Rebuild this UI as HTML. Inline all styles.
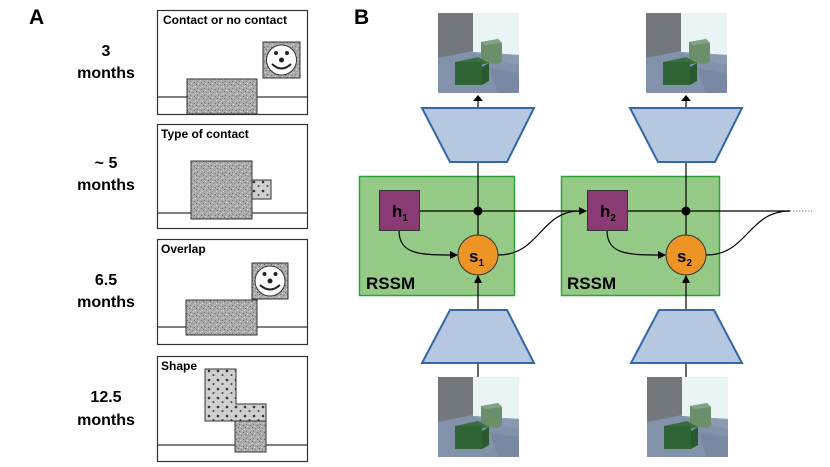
<!DOCTYPE html>
<html><head><meta charset="utf-8"><style>
html,body{margin:0;padding:0;background:#fff;}
svg{display:block;}
text{font-family:"Liberation Sans",Arial,sans-serif;font-weight:bold;}
</style></head><body>
<svg width="830" height="467" viewBox="0 0 830 467" xmlns="http://www.w3.org/2000/svg">
<defs>
<pattern id="noise" width="7" height="7" patternUnits="userSpaceOnUse">
<rect width="7" height="7" fill="#aaa"/>
<rect x="0" y="0" width="1" height="1" fill="#666"/><rect x="3" y="1" width="1" height="1" fill="#888"/>
<rect x="1" y="4" width="1" height="1" fill="#777"/><rect x="5" y="5" width="1" height="1" fill="#666"/>
<rect x="2" y="6" width="1" height="1" fill="#ddd"/><rect x="6" y="2" width="1" height="1" fill="#ddd"/>
<rect x="4" y="3" width="1" height="1" fill="#ccc"/>
</pattern>
<pattern id="dots" width="9" height="9" patternUnits="userSpaceOnUse">
<rect width="9" height="9" fill="#cfcfcf"/>
<circle cx="2" cy="2" r="1.3" fill="#333"/><circle cx="6.5" cy="6" r="1" fill="#444"/>
</pattern>
<g id="img">
<rect x="0" y="0" width="81" height="80" fill="#8292aa"/>
<polygon points="0,0 35,0 35,38 0,45" fill="#73787f"/>
<polygon points="35,0 81,0 81,42 35,39" fill="#e9f5f5"/>
<polygon points="35,39 81,42 81,52 55,46 35,40" fill="#8a9ab0"/>
<polygon points="43,29 60,26 64,30 64,48 60,51 43,49" fill="#6b8e6b"/>
<polygon points="43,29 60,26 64,30 47,32" fill="#82a482"/>
<polygon points="51,55 81,60 81,80 60,80" fill="#74849c" opacity="0.6"/>
<polygon points="17,49 40,44 51,50 28,55" fill="#3c6f40"/>
<rect x="17" y="49" width="27" height="23" fill="#2e6534"/>
<polygon points="44,54 51,50 51,68 44,72" fill="#285a2d"/>
</g>
<marker id="ah" markerWidth="8" markerHeight="8" refX="7" refY="4" orient="auto" markerUnits="userSpaceOnUse">
<path d="M0,0 L8,4 L0,8 z" fill="#000"/>
</marker>
</defs>

<text x="29" y="24" font-size="21">A</text>
<g font-size="16" text-anchor="middle">
<text x="106" y="56">3</text><text x="106" y="78">months</text>
<text x="106" y="168">~ 5</text><text x="106" y="190">months</text>
<text x="106" y="285">6.5</text><text x="106" y="307">months</text>
<text x="106" y="402">12.5</text><text x="106" y="425">months</text>
</g>

<g stroke="#333" stroke-width="1.2" fill="none">
<rect x="157.5" y="10.5" width="150" height="104"/>
<rect x="157.5" y="124.5" width="150" height="104"/>
<rect x="157.5" y="239.5" width="150" height="105"/>
<rect x="157.5" y="356.5" width="150" height="105"/>
<line x1="157" y1="97" x2="307" y2="97"/>
<line x1="157" y1="213" x2="307" y2="213"/>
<line x1="157" y1="327" x2="307" y2="327"/>
<line x1="157" y1="445" x2="307" y2="445"/>
</g>
<g font-size="12">
<text x="163" y="24">Contact or no contact</text>
<text x="161" y="138">Type of contact</text>
<text x="161" y="253">Overlap</text>
<text x="161" y="370">Shape</text>
</g>
<g stroke="#333" stroke-width="1">
<rect x="187" y="79" width="70" height="35" fill="url(#noise)"/>
<rect x="263" y="42" width="37" height="36" fill="url(#noise)"/>
<rect x="191" y="161" width="61" height="58" fill="url(#noise)"/>
<rect x="252" y="180" width="19" height="19" fill="url(#dots)"/>
<rect x="186" y="300" width="71" height="35" fill="url(#noise)"/>
<rect x="252" y="263" width="36" height="36" fill="url(#noise)"/>
<polygon points="205,369 236,369 236,404 266,404 266,421 205,421" fill="url(#dots)"/>
<rect x="235" y="421" width="31" height="31" fill="url(#noise)"/>
</g>
<g fill="#fff" stroke="#333" stroke-width="1">
<circle cx="281.5" cy="60" r="15"/>
<circle cx="270" cy="281" r="15"/>
</g>
<g fill="#222">
<circle cx="281.5" cy="60" r="2.5"/><circle cx="276" cy="53" r="2"/><circle cx="287" cy="53" r="2"/>
<circle cx="270" cy="281" r="2.5"/><circle cx="264.5" cy="274" r="2"/><circle cx="275.5" cy="274" r="2"/>
</g>
<g fill="none" stroke="#222" stroke-width="2">
<path d="M272,64 Q281.5,73 291,64"/><path d="M260,285 Q270,294 280,285"/>
</g>

<text x="354" y="24" font-size="21">B</text>

<rect x="359.5" y="176.5" width="155" height="119" fill="#95ca86" stroke="#2ea23a" stroke-width="1.5"/>
<rect x="561.5" y="176.5" width="158" height="119" fill="#95ca86" stroke="#2ea23a" stroke-width="1.5"/>
<text x="366" y="289" font-size="17">RSSM</text>
<text x="567" y="289" font-size="17">RSSM</text>

<g stroke="#000" stroke-width="1.2" fill="none">
<line x1="478" y1="108" x2="478" y2="101"/>
<line x1="686" y1="108" x2="686" y2="101"/>
<line x1="478" y1="162" x2="478" y2="235"/>
<line x1="686" y1="162" x2="686" y2="235"/>
<line x1="478" y1="377" x2="478" y2="364"/>
<line x1="686" y1="377" x2="686" y2="364"/>
<line x1="478" y1="310" x2="478" y2="276" marker-end="url(#ah)"/>
<line x1="686" y1="310" x2="686" y2="276" marker-end="url(#ah)"/>
<line x1="419" y1="211" x2="586" y2="211" marker-end="url(#ah)"/>
<line x1="627" y1="211" x2="790" y2="211"/>
<line x1="790" y1="211" x2="812" y2="211" stroke="#999" stroke-dasharray="1.5,1.5"/>
<path d="M399,230 C399,255 420,255 457,255" marker-end="url(#ah)"/>
<path d="M607,230 C607,255 628,255 665,255" marker-end="url(#ah)"/>
<path d="M498,255 C540,255 540,211 580,211"/>
<path d="M706,255 C748,255 748,211 790,211"/>
</g>
<polygon points="478,95 473,101 483,101" fill="#000"/>
<polygon points="686,95 681,101 691,101" fill="#000"/>
<circle cx="478" cy="211" r="4.5" fill="#000"/>
<circle cx="686" cy="211" r="4.5" fill="#000"/>

<rect x="379.5" y="190.5" width="40" height="40" fill="#8b3b74" stroke="#333" stroke-width="1"/>
<rect x="587.5" y="190.5" width="40" height="40" fill="#8b3b74" stroke="#333" stroke-width="1"/>
<circle cx="478" cy="255" r="20" fill="#ec9424" stroke="#333" stroke-width="1"/>
<circle cx="686" cy="255" r="20" fill="#ec9424" stroke="#333" stroke-width="1"/>
<g font-size="17">
<text x="392" y="217">h<tspan font-size="10" dy="4">1</tspan></text>
<text x="600" y="217">h<tspan font-size="10" dy="4">2</tspan></text>
<text x="469" y="262">s<tspan font-size="10" dy="4">1</tspan></text>
<text x="677" y="262">s<tspan font-size="10" dy="4">2</tspan></text>
</g>

<g fill="#b6c8df" stroke="#3566a8" stroke-width="2">
<polygon points="422,108 534,108 507,162 450,162"/>
<polygon points="630,108 742,108 715,162 658,162"/>
<polygon points="450,310 507,310 534,363 422,363"/>
<polygon points="659,310 714,310 742,363 631,363"/>
</g>

<use href="#img" x="438" y="13"/>
<use href="#img" x="646" y="13"/>
<use href="#img" x="438" y="377"/>
<use href="#img" x="647" y="377"/>
</svg>
</body></html>
